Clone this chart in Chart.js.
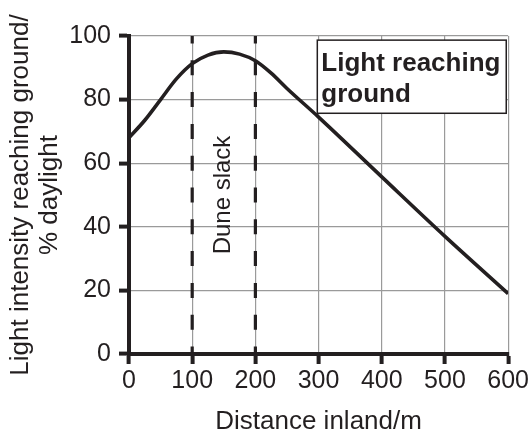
<!DOCTYPE html>
<html>
<head>
<meta charset="utf-8">
<script src="https://cdn.jsdelivr.net/npm/chart.js@4.4.0/dist/chart.umd.min.js"></script>
<style>
html,body{margin:0;padding:0;background:#fff;}
#wrap{width:531px;height:435px;}
</style>
</head>
<body>
<div id="wrap"><canvas id="c" width="531" height="435"></canvas></div>
<script>
const distances = [0, 25, 50, 75, 100, 125, 150, 175, 200, 225, 250, 300, 400, 500, 600];
const lightPct  = [68, 73.5, 80, 86.5, 91.3, 94, 95, 94.3, 92.2, 88.3, 83.5, 74.5, 55.7, 37, 19];
const slackEdges = [100, 200];
const xTicks = [0, 100, 200, 300, 400, 500, 600];
const yTicks = [0, 20, 40, 60, 80, 100];
const seriesLabel = ['Light reaching', 'ground'];
const zoneLabel = 'Dune slack';
const xTitle = 'Distance inland/m';
const yTitle = ['Light intensity reaching ground/', '% daylight'];

const ink = '#231f20';
const FONT = '"Liberation Sans", Arial, sans-serif';

const datasets = [{
  label: seriesLabel.join(' '),
  data: distances.map((d, i) => ({x: d, y: lightPct[i]})),
  borderColor: ink,
  borderWidth: 3.6,
  pointRadius: 0,
  fill: false,
  cubicInterpolationMode: 'monotone'
}];
slackEdges.forEach(e => datasets.push({
  label: 'edge' + e,
  data: [{x: e, y: 0}, {x: e, y: 100}],
  borderColor: ink,
  borderWidth: 3.2,
  borderDash: [15, 16.8],
  borderDashOffset: 7.5,
  pointRadius: 0,
  fill: false
}));

const annot = {
  id: 'annot',
  afterDatasetsDraw(chart) {
    const ctx = chart.ctx, xs = chart.scales.x, ys = chart.scales.y;
    ctx.save();
    ctx.translate(xs.getPixelForValue((slackEdges[0] + slackEdges[1]) / 2), ys.getPixelForValue(50));
    ctx.rotate(-Math.PI / 2);
    ctx.fillStyle = ink;
    ctx.font = '24px ' + FONT;
    ctx.textAlign = 'center';
    ctx.textBaseline = 'middle';
    ctx.fillText(zoneLabel, 0, 0);
    ctx.restore();
    ctx.save();
    const bx = xs.getPixelForValue(298), by = ys.getPixelForValue(98.7);
    const bw = xs.getPixelForValue(597) - bx, bh = ys.getPixelForValue(75.7) - by;
    ctx.fillStyle = '#fff';
    ctx.fillRect(bx, by, bw, bh);
    ctx.strokeStyle = ink;
    ctx.lineWidth = 1.5;
    ctx.strokeRect(bx, by, bw, bh);
    ctx.fillStyle = ink;
    ctx.font = 'bold 26px ' + FONT;
    ctx.textAlign = 'left';
    ctx.textBaseline = 'alphabetic';
    ctx.fillText(seriesLabel[0], bx + 4, by + 31);
    ctx.fillText(seriesLabel[1], bx + 4, by + 62);
    ctx.restore();
  }
};

new Chart(document.getElementById('c'), {
  type: 'line',
  data: {datasets},
  options: {
    responsive: false,
    animation: false,
    devicePixelRatio: 1,
    layout: {padding: {left: 0, top: 36, right: 21, bottom: 0}},
    plugins: {legend: {display: false}, tooltip: {enabled: false}},
    scales: {
      x: {
        type: 'linear', min: 0, max: 600,
        afterBuildTicks: s => { s.ticks = xTicks.map(v => ({value: v})); },
        afterFit: s => { s.height = 81; },
        border: {display: true, color: ink, width: 4},
        grid: {color: '#9a9a9a', lineWidth: 1.2, tickLength: 10, tickColor: ink, tickWidth: 4},
        ticks: {color: ink, font: {family: FONT, size: 25}, padding: 2, maxRotation: 0},
        title: {display: true, text: xTitle, color: ink, font: {family: FONT, size: 26, lineHeight: 1.0}, padding: {top: 0, bottom: 0}}
      },
      y: {
        min: 0, max: 100,
        afterBuildTicks: s => { s.ticks = yTicks.map(v => ({value: v})); },
        afterFit: s => { s.width = 129; },
        border: {display: true, color: ink, width: 4},
        grid: {color: '#9a9a9a', lineWidth: 1.2, tickLength: 10, tickColor: ink, tickWidth: 4},
        ticks: {color: ink, font: {family: FONT, size: 25}, padding: 8},
        title: {display: true, text: yTitle, color: ink, font: {family: FONT, size: 26, lineHeight: 1.12}, padding: {top: 6, bottom: 0}}
      }
    }
  },
  plugins: [annot]
});
</script>
</body>
</html>
